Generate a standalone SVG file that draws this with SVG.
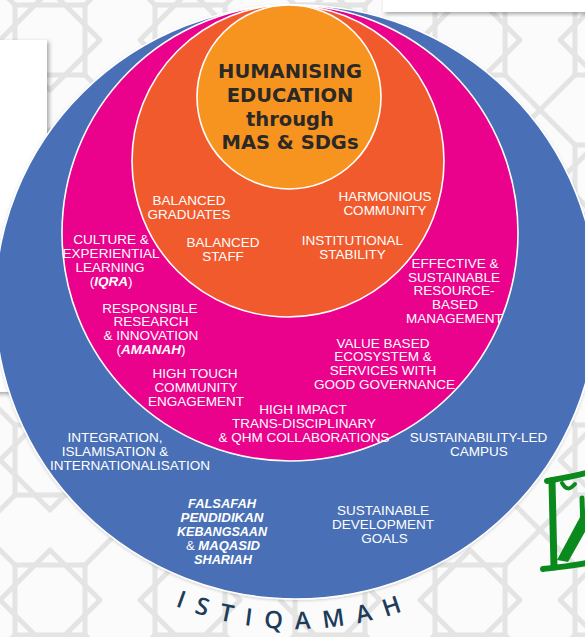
<svg xmlns="http://www.w3.org/2000/svg" width="585" height="637" viewBox="0 0 585 637">
<defs>
<pattern id="bgpat" x="-20" y="-30" width="140" height="140" patternUnits="userSpaceOnUse">
<rect width="140" height="140" fill="#fbfbfb"/>
<g fill="none" stroke="#e4e4e4" stroke-width="5" stroke-linejoin="round">
<polygon points="35,35 105,35 105,105 35,105"/>
<polygon points="70,20 120,70 70,120 20,70"/>
<line x1="0" y1="0" x2="35" y2="35"/>
<line x1="140" y1="0" x2="105" y2="35"/>
<line x1="0" y1="140" x2="35" y2="105"/>
<line x1="140" y1="140" x2="105" y2="105"/>
</g>
</pattern>
<filter id="shadow" x="-20%" y="-20%" width="140%" height="140%">
<feDropShadow dx="2" dy="2" stdDeviation="2" flood-color="#000" flood-opacity="0.35"/>
</filter>
<filter id="soft" x="-10%" y="-10%" width="120%" height="120%">
<feDropShadow dx="0" dy="1" stdDeviation="1.5" flood-color="#000" flood-opacity="0.18"/>
</filter>
<path id="arc" d="M 12.8 465.5 A 327 327 0 0 0 579.2 465.5"/>
<style>
.ring{stroke:#ffffff;stroke-width:1.6}
.lbl{font-family:"Liberation Sans",Arial,sans-serif;font-size:13.5px;fill:#ffffff;text-anchor:middle}
.it{font-style:italic;font-weight:bold}
.title{font-family:"DejaVu Sans",sans-serif;font-weight:bold;font-size:19.5px;fill:#2b2828;text-anchor:middle}
.arcTxt{font-family:"Open Sans",sans-serif;font-weight:600;font-size:24px;fill:#1d3c5a;letter-spacing:12.5px}
.box{fill:#ffffff}
.green{fill:none;stroke:#0a8a1c;stroke-linecap:round;stroke-linejoin:round}
</style>
</defs>

<g id="background">
<rect width="585" height="637" fill="url(#bgpat)"/>
</g>

<g id="boxes">
<rect id="box-top-right" class="box" x="383" y="-10" width="215" height="22" filter="url(#shadow)"/>
<rect id="box-left" class="box" x="-10" y="40" width="57" height="352" filter="url(#shadow)"/>
</g>

<g id="node-blue">
<ellipse class="ring" cx="296" cy="302" rx="301" ry="297" fill="#4a70b6" filter="url(#soft)"/>
</g>
<g id="node-pink">
<circle class="ring" cx="290" cy="233" r="228" fill="#ea028c"/>
</g>
<g id="node-orangered">
<circle class="ring" cx="288" cy="161" r="156" fill="#f15a2c"/>
</g>
<g id="node-orange">
<circle class="ring" cx="289" cy="97" r="92" fill="#f7941f"/>
<text class="title" x="290" y="77.5">HUMANISING</text>
<text class="title" x="290" y="101.5">EDUCATION</text>
<text class="title" x="290" y="125.5">through</text>
<text class="title" x="290" y="149">MAS &amp; SDGs</text>
</g>

<g id="labels-orangered">
<text class="lbl" x="189" y="205">BALANCED</text>
<text class="lbl" x="189" y="219">GRADUATES</text>
<text class="lbl" x="223" y="247">BALANCED</text>
<text class="lbl" x="223" y="261">STAFF</text>
<text class="lbl" x="385" y="200.5">HARMONIOUS</text>
<text class="lbl" x="385" y="214.5">COMMUNITY</text>
<text class="lbl" x="352.5" y="245">INSTITUTIONAL</text>
<text class="lbl" x="352.5" y="259">STABILITY</text>
</g>

<g id="labels-pink">
<text class="lbl" x="111" y="244">CULTURE &amp;</text>
<text class="lbl" x="111" y="258">EXPERIENTIAL</text>
<text class="lbl" x="110" y="272">LEARNING</text>
<text class="lbl" x="111" y="285.5">(<tspan class="it">IQRA</tspan>)</text>
<text class="lbl" x="150" y="312.5">RESPONSIBLE</text>
<text class="lbl" x="151" y="326">RESEARCH</text>
<text class="lbl" x="151" y="340">&amp; INNOVATION</text>
<text class="lbl" x="151" y="354">(<tspan class="it">AMANAH</tspan>)</text>
<text class="lbl" x="195" y="378">HIGH TOUCH</text>
<text class="lbl" x="196" y="392">COMMUNITY</text>
<text class="lbl" x="196" y="405.5">ENGAGEMENT</text>
<text class="lbl" x="303" y="413.5">HIGH IMPACT</text>
<text class="lbl" x="304" y="427.5">TRANS-DISCIPLINARY</text>
<text class="lbl" x="304" y="441.5">&amp; QHM COLLABORATIONS</text>
<text class="lbl" x="455" y="267.5">EFFECTIVE &amp;</text>
<text class="lbl" x="454" y="281.5">SUSTAINABLE</text>
<text class="lbl" x="454" y="295">RESOURCE-</text>
<text class="lbl" x="455" y="309">BASED</text>
<text class="lbl" x="454.5" y="322.5">MANAGEMENT</text>
<text class="lbl" x="383" y="347.5">VALUE BASED</text>
<text class="lbl" x="383" y="361">ECOSYSTEM &amp;</text>
<text class="lbl" x="383" y="375">SERVICES WITH</text>
<text class="lbl" x="384.5" y="389">GOOD GOVERNANCE</text>
</g>

<g id="labels-blue">
<text class="lbl" x="115" y="442">INTEGRATION,</text>
<text class="lbl" x="115" y="456">ISLAMISATION &amp;</text>
<text class="lbl" x="130" y="470">INTERNATIONALISATION</text>
<text class="lbl" x="478.5" y="442">SUSTAINABILITY-LED</text>
<text class="lbl" x="479" y="456">CAMPUS</text>
<text class="lbl it" x="222" y="508" textLength="68" lengthAdjust="spacingAndGlyphs">FALSAFAH</text>
<text class="lbl it" x="222" y="522" textLength="83" lengthAdjust="spacingAndGlyphs">PENDIDIKAN</text>
<text class="lbl it" x="222" y="536" textLength="90" lengthAdjust="spacingAndGlyphs">KEBANGSAAN</text>
<text class="lbl" x="223" y="550" textLength="74" lengthAdjust="spacingAndGlyphs">&amp; <tspan class="it">MAQASID</tspan></text>
<text class="lbl it" x="223" y="564" textLength="58" lengthAdjust="spacingAndGlyphs">SHARIAH</text>
<text class="lbl" x="383" y="514.5">SUSTAINABLE</text>
<text class="lbl" x="383" y="528.5">DEVELOPMENT</text>
<text class="lbl" x="384.5" y="542.5">GOALS</text>
</g>

<g id="istiqamah">
<text class="arcTxt"><textPath href="#arc" startOffset="341" text-anchor="middle">ISTIQAMAH</textPath></text>
</g>

<g id="green-icon">
<path class="green" stroke-width="6" d="M547 481 C 558 479, 570 477, 586 473"/>
<path class="green" stroke-width="7" d="M552 481 L 554 567"/>
<path class="green" stroke-width="6" d="M543 569 C 558 567, 572 566, 586 563"/>
<path class="green" stroke-width="5" d="M582 498 L 583 530"/>
<path d="M557 560 L 586 506 L 586 530 L 568 562 Z" fill="#0a8a1c"/>
<path class="green" stroke-width="2" stroke="#ffffff" d="M562 557 L 584 517"/>
<path class="green" stroke-width="4" d="M562 483 C 566 490, 570 490, 575 484"/>
</g>
</svg>
